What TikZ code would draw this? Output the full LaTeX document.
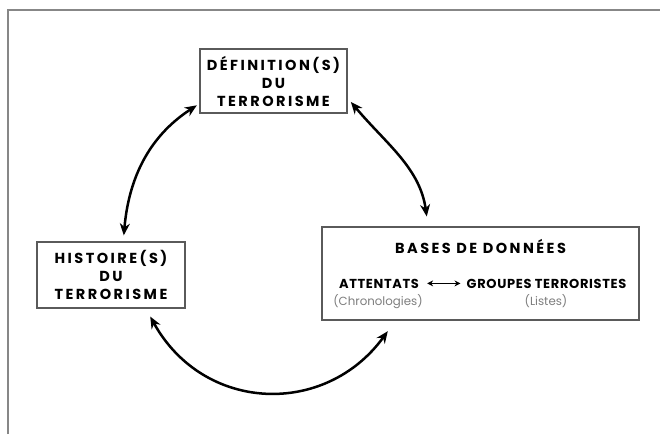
\documentclass[tikz,border=0pt]{standalone}
\usepackage{fontspec}
\setmainfont{Poppins}
\newfontfamily\capsfont[LetterSpace=17]{Poppins}
\newfontfamily\subfont[LetterSpace=5]{Poppins}
\usetikzlibrary{arrows.meta}
\definecolor{framegray}{RGB}{135,135,135}
\definecolor{boxgray}{RGB}{90,90,90}
\definecolor{notegray}{RGB}{125,125,125}
\tikzset{
  titlebox/.style={draw=boxgray, line width=1.3pt, align=center, inner sep=0pt,
    font=\capsfont\bfseries\fontsize{14.5}{18}\selectfont},
  subhead/.style={font=\subfont\bfseries\fontsize{13}{15}\selectfont, inner sep=0pt, anchor=base},
  subnote/.style={font=\fontsize{11.8}{14}\selectfont, text=notegray, inner sep=0pt, anchor=base},
  cyclearrow/.style={{Stealth[length=12pt,width=10pt]}-{Stealth[length=12pt,width=10pt]}, line width=2.5pt},
}
\begin{document}
\begin{tikzpicture}[x=1pt,y=1pt]
	\useasboundingbox (0,0) rectangle (660,434);
	%frame
	\draw[framegray, line width=1.5pt] (8,0) -- (8,424) -- (660,424);
	
	%boxes
	\node[titlebox, minimum width=147pt, minimum height=64pt] (defn) at (273.5,353) {DÉFINITION(S)\\DU\\TERRORISME};
	\node[titlebox, minimum width=148pt, minimum height=66pt] (hist) at (111,159) {HISTOIRE(S)\\DU\\TERRORISME};
	\node[titlebox, minimum width=317pt, minimum height=93pt] (bases) at (480.5,160.5) {};
	
	%inside the data box
	\node[titlebox, draw=none, anchor=base] (basestitle) at (480.5,181) {BASES DE DONNÉES};
	\node[subhead] (att) at (379,146) {ATTENTATS};
	\node[subhead] (grp) at (546.5,146) {GROUPES TERRORISTES};
	\node[subnote] (chrono) at (378,128.5) {(Chronologies)};
	\node[subnote] (listes) at (546,128.5) {(Listes)};
	\draw[{Stealth[length=6pt,width=6pt]}-{Stealth[length=6pt,width=6pt]}, line width=1.6pt,
		shorten <=8pt, shorten >=6pt] (att) -- (grp);
	
	%cycle
	\draw[cyclearrow, shorten <=6pt, shorten >=3pt] (hist.70) to[out=85, in=213] (defn.197);
	\draw[cyclearrow, shorten <=5pt, shorten >=10pt] (defn.347) to[out=-50, in=98] (bases.138);
	\draw[cyclearrow, shorten <=9pt, shorten >=13pt] (hist.316) to[out=-61, in=234, looseness=1.22] (bases.209.5);
\end{tikzpicture}
\end{document}
